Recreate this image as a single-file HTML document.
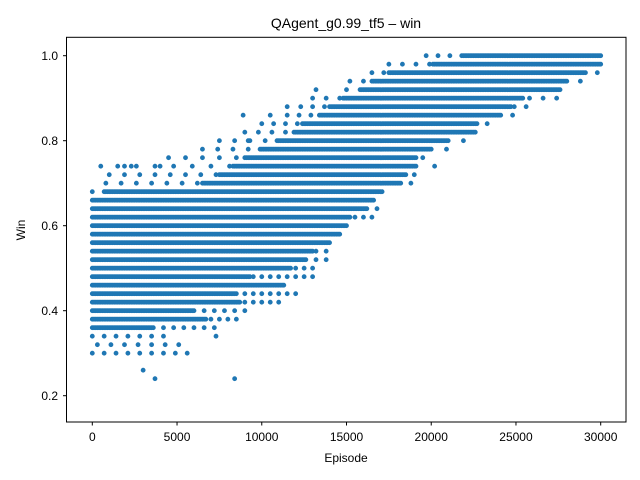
<!DOCTYPE html>
<html><head><meta charset="utf-8"><style>
body{margin:0;background:#fff;}
svg{display:block;font-family:"Liberation Sans","DejaVu Sans",sans-serif;}
</style></head><body>
<svg id="chart" width="640" height="480" viewBox="0 0 640 480">
<rect x="0" y="0" width="640" height="480" fill="#fff"/>
<text x="346" y="28" font-size="14" text-anchor="middle">QAgent_g0.99_tf5 – win</text>
<g id="marks"></g>
<rect x="66.5" y="37.3" width="559.5" height="384.7" fill="none" stroke="#000" stroke-width="1"/>
<g id="xaxis"></g>
<g id="yaxis"></g>
<text x="346" y="462" font-size="12" text-anchor="middle">Episode</text>
<text x="25" y="230" font-size="12" text-anchor="middle" transform="rotate(-90 25 230)">Win</text>
</svg>
<script>
const levels      = [0.30,0.32,0.34,0.36,0.38,0.40,0.42,0.44,0.46,0.48,0.50,0.52,0.54,0.56,0.58,0.60,0.62,0.64,0.66,0.68,0.70,0.72,0.74,0.76,0.78,0.80,0.82,0.84,0.86,0.88,0.90,0.92,0.94,0.96,0.98,1.00];
const denseStart  = [0,0,0,0,0,0,0,0,0,0,0,0,0,0,0,0,0,0,0,700,6500,7500,8300,9000,9900,10900,11900,12400,13400,14000,14800,15800,16500,17500,20100,21800];
const denseEnd    = [0,0,0,3500,6700,6000,8700,8500,11300,9300,11700,12600,13000,14000,14600,15000,15200,16200,16600,17100,18200,18500,19100,19100,19900,20900,22500,22700,24000,24700,25400,27600,28000,29000,30000,30000];
const sparseStart = [0,300,0,0,0,0,0,0,0,0,0,0,0,0,0,0,0,0,0,0,800,1000,1500,4500,6500,7500,9000,10000,11500,12300,13000,15000,15200,16500,17500,19700];
const sparseEnd   = [5800,5200,4300,7200,8500,9200,11300,12200,11300,13100,13200,14300,14200,14000,14600,15000,16500,17000,16700,17400,19000,19700,20200,20300,21100,22000,23300,23900,25000,26100,27600,28000,29000,30000,30000,30000];
const sparseStep  = [700,800,700,600,500,600,500,500,500,500,500,600,600,500,500,500,500,600,500,700,900,900,1100,1000,900,900,800,700,700,700,800,900,800,700,800,700];
const outX = [3000,3700,8400,500,1900,2300,4000,8900,13200,7300,10500,11500,9200];
const outY = [0.26,0.24,0.24,0.74,0.74,0.74,0.74,0.86,0.92,0.34,0.86,0.88,0.80];
const xTicks = [0,5000,10000,15000,20000,25000,30000];
const yTicks = [0.2,0.4,0.6,0.8,1.0];
const yTickLabels = ["0.2","0.4","0.6","0.8","1.0"];

const NS="http://www.w3.org/2000/svg";
function xs(v){return 92.3 + v*(600.7-92.3)/30000;}
function ys(v){return 55.7 + (1-v)*425;}
const marks=document.getElementById('marks');
let pts=[];
for(let i=0;i<levels.length;i++){
  const hasDense=denseEnd[i]>denseStart[i];
  if(hasDense) for(let e=denseStart[i];e<=denseEnd[i];e+=100) pts.push([e,levels[i]]);
  for(let e=sparseStart[i];e<=sparseEnd[i];e+=sparseStep[i]){
    if(hasDense&&e>=denseStart[i]&&e<=denseEnd[i]) continue;
    pts.push([e,levels[i]]);
  }
}
for(let i=0;i<outX.length;i++) pts.push([outX[i],outY[i]]);
for(const p of pts){
  const c=document.createElementNS(NS,'circle');
  c.setAttribute('cx',xs(p[0]).toFixed(2));
  c.setAttribute('cy',ys(p[1]).toFixed(2));
  c.setAttribute('r','2.4');
  c.setAttribute('fill','#1f77b4');
  
  
  marks.appendChild(c);
}
const xa=document.getElementById('xaxis');
for(const t of xTicks){
  const l=document.createElementNS(NS,'line');
  l.setAttribute('x1',xs(t));l.setAttribute('x2',xs(t));l.setAttribute('y1',422);l.setAttribute('y2',425.5);l.setAttribute('stroke','#000');
  
  
  xa.appendChild(l);
  const tx=document.createElementNS(NS,'text');
  tx.setAttribute('x',xs(t));tx.setAttribute('y',441);tx.setAttribute('font-size','12');tx.setAttribute('text-anchor','middle');
  tx.textContent=String(t);
  
  
  xa.appendChild(tx);
}
const ya=document.getElementById('yaxis');
for(let i=0;i<yTicks.length;i++){
  const t=yTicks[i];
  const l=document.createElementNS(NS,'line');
  l.setAttribute('x1',63);l.setAttribute('x2',66.5);l.setAttribute('y1',ys(t));l.setAttribute('y2',ys(t));l.setAttribute('stroke','#000');
  
  
  ya.appendChild(l);
  const tx=document.createElementNS(NS,'text');
  tx.setAttribute('x',58);tx.setAttribute('y',ys(t)+4.5);tx.setAttribute('font-size','12');tx.setAttribute('text-anchor','end');
  tx.textContent=yTickLabels[i];
  
  
  ya.appendChild(tx);
}
</script>
</body></html>
